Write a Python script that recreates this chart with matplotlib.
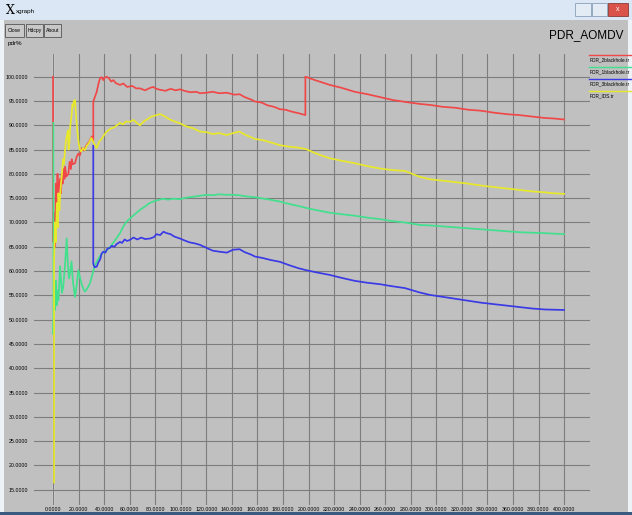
import matplotlib
matplotlib.use("Agg")
import matplotlib.pyplot as plt
from matplotlib.patches import Rectangle
from matplotlib.lines import Line2D

# ---------------- data ----------------
red_x = [0, 0, 0.8, 1.5, 2.2, 2.9, 3.5, 4, 4.6, 5.5, 6.2, 6.8, 7.5, 8.2, 9, 9.4, 10.5, 12, 13, 14, 14.6,
         15.5, 17.2, 18.5, 19.8, 21, 22.4, 24, 26.4, 28, 30.3, 31.5, 31.5, 33, 34.2, 35.5, 36.8, 38, 39.4,
         40.5, 42, 44, 45.5, 47.2, 49, 52.4, 55, 58, 62, 65, 68, 72, 76, 78.3, 81, 83.8, 88, 92, 96, 99.4,
         104, 108, 112, 115, 120, 125, 130, 136, 142, 146, 150, 155, 158, 163, 168, 173, 177.7, 182, 187,
         192, 197.5, 197.5, 205, 216.8, 226, 236, 246, 256, 266, 276, 287, 295, 305, 315, 325, 335, 345,
         355, 365, 375, 385, 392, 400]
red_y = [100, 66, 72, 65, 78, 69, 80, 74, 77, 79, 76, 80, 78, 81, 79, 81.5, 79.5, 80, 82.5, 81, 83,
         82, 82.2, 83.5, 84.2, 83.8, 85.3, 84.8, 86, 86.5, 87.7, 86.8, 94.9, 96, 96.9, 98.5, 99.7, 99.9, 99.3,
         99.8, 100, 99.6, 99.0, 99.3, 98.7, 98.3, 98.6, 97.9, 98.1, 97.6, 97.6, 97.2, 97.7, 97.9, 97.5, 97.3,
         97.1, 97.5, 97.2, 97.4, 97.0, 96.8, 96.9, 96.6, 96.7, 96.9, 96.6, 96.7, 96.3, 96.4, 95.8, 95.3, 94.9,
         94.7, 94.1, 93.8, 93.3, 93.2, 92.8, 92.5, 92.1, 100.0, 99.3, 98.3, 97.7, 96.9, 96.4, 95.8, 95.2,
         94.8, 94.4, 94.2, 93.8, 93.6, 93.2, 93.0, 92.6, 92.3, 92.1, 91.8, 91.5, 91.4, 91.2]

yel_x = [0.8, 0.8, 1.5, 2.2, 3, 3.6, 4.2, 5, 5.5, 6.2, 7, 7.8, 8.6, 9.4, 10.2, 11, 11.7, 12.2, 12.8, 13.5,
         14.5, 15.2, 15.6, 16.2, 17.2, 18, 19, 20, 21, 22, 23.5, 25, 26.4, 28, 30, 31.5, 33, 34.2, 36, 38,
         40, 42, 45, 48, 52.4, 55, 57, 60, 63, 66, 68, 71, 74, 77, 80, 83.8, 87, 90, 94, 99.4, 104, 109.6,
         115, 120, 125, 130, 136, 141, 146, 150, 158, 165, 170, 177.7, 185, 192, 198, 205, 210, 216.8, 226,
         236, 246, 256, 265, 275.5, 287, 295, 305, 315, 325, 335, 345, 355, 365, 375, 385, 392, 400]
yel_y = [16.5, 62, 70, 66, 74, 69, 76, 72.5, 75, 78, 80, 83, 82, 85, 87, 88, 89, 85, 86.5, 90,
         92, 94.2, 93.8, 95, 95.2, 92, 89, 86.5, 85, 84.6, 85.3, 84.9, 85.8, 86.3, 87.4, 86.6, 85.8, 85.3,
         86.6, 87.2, 88, 88.7, 89.3, 89.6, 90.5, 90.2, 90.8, 90.7, 91.1, 90.4, 90.0, 90.8, 91.3, 91.8, 92.0,
         92.3, 91.9, 91.4, 90.9, 90.4, 89.8, 89.4, 88.7, 88.6, 88.2, 88.4, 88.0, 88.4, 88.7, 88.1, 87.2, 86.9,
         86.5, 85.9, 85.6, 85.4, 85.1, 84.3, 83.8, 83.2, 82.7, 82.2, 81.6, 81.1, 80.8, 80.6, 79.4, 78.9,
         78.6, 78.3, 78.0, 77.6, 77.3, 77.0, 76.7, 76.4, 76.2, 76.0, 75.9]

grn_x = [0.3, 0.3, 1, 1.6, 2.2, 2.8, 3.5, 4.2, 5, 5.5, 6.3, 7, 8, 9, 9.8, 10.7, 11.5, 12.4, 13.3, 14.5,
         15.5, 17.2, 18.5, 19.8, 21, 22.5, 24, 25, 26.5, 28, 29, 31, 32.9, 35, 37, 39, 40.7, 43, 46, 49,
         52.4, 55, 57.7, 61, 64, 68, 72, 75, 78.3, 82, 86, 90, 94, 99.4, 104, 110, 115, 120, 125, 130, 136,
         141, 146, 150, 158, 165, 170, 177.7, 185, 192, 198, 205, 216.8, 226, 236, 246, 256, 265, 275.5,
         287, 295, 305, 315, 325, 335, 345, 355, 365, 375, 385, 400]
grn_y = [90.5, 47, 55, 52, 58, 53, 56, 54, 58, 61, 58, 55.5, 56.8, 60, 63, 66.7, 62, 58.5, 59.6, 62,
         58, 54.7, 57, 60.2, 58.8, 57.2, 56.2, 55.8, 56.3, 57.0, 57.6, 59.5, 61.3, 62.3, 63.2, 63.8, 64,
         64.5, 65.4, 66.5, 67.8, 69.2, 70.2, 71.0, 71.7, 72.6, 73.3, 73.9, 74.3, 74.6, 74.9, 74.7, 74.9,
         74.8, 75.1, 75.3, 75.5, 75.7, 75.6, 75.8, 75.7, 75.7, 75.6, 75.4, 75.2, 74.9, 74.7, 74.3, 73.8,
         73.4, 73.0, 72.6, 72.0, 71.7, 71.4, 71.0, 70.7, 70.3, 70.0, 69.5, 69.4, 69.2, 69.0, 68.8, 68.6,
         68.4, 68.2, 68.0, 67.9, 67.8, 67.6]

blu_x = [31.5, 31.5, 32.5, 34.2, 35.5, 37, 38, 39.4, 41, 42.5, 44.6, 46, 48, 50, 52.4, 54, 56, 58, 60, 63,
         66, 69, 72, 76, 79, 81, 83.8, 86.4, 89, 92, 95, 99.4, 103, 107, 111, 115, 120, 125, 130, 136, 141,
         146, 150, 155, 158, 164, 170, 177.7, 185, 192, 198, 205, 216.8, 226, 236, 246, 256, 265, 275.5,
         287, 295, 305, 315, 325, 335, 345, 355, 365, 375, 385, 400]
blu_y = [85.8, 61.5, 60.8, 60.9, 61.8, 62.5, 63.6, 64, 63.8, 64.6, 64.8, 65.2, 65.0, 65.6, 66.0, 65.8,
         66.5, 66.2, 66.4, 66.9, 66.5, 66.9, 66.6, 66.7, 67.0, 67.6, 67.4, 68.1, 67.8, 67.6, 67.1, 66.7,
         66.3, 65.9, 65.7, 65.4, 64.8, 64.2, 64.0, 63.8, 64.4, 64.5, 63.9, 63.4, 63.0, 62.7, 62.3, 61.9,
         61.2, 60.6, 60.2, 59.8, 59.2, 58.6, 58.0, 57.6, 57.3, 56.9, 56.5, 55.6, 55.1, 54.7, 54.3, 53.9,
         53.5, 53.2, 52.9, 52.6, 52.3, 52.1, 52.0]

series_names = ["PDR_2blackhole.tr", "PDR_1blackhole.tr", "PDR_3blackhole.tr", "PDR_IDS.tr"]
series_colors = ["#f04848", "#40e08c", "#3a3ae6", "#e8e82a"]
x_ticks = list(range(0, 401, 20))
y_ticks = list(range(15, 101, 5))
title = "PDR_AOMDV"
y_unit = "pdr%"

# ---------------- figure ----------------
W, H = 632, 515
fig = plt.figure(figsize=(W / 100, H / 100), dpi=100)
fig.patch.set_facecolor("#c0c0c0")
FONT = "Liberation Sans"


def fx(px):
    return px / W


def fy(py):
    return 1 - py / H


def rect(x0, y0, x1, y1, fc, ec="none", lw=0.6, z=0):
    fig.patches.append(Rectangle((fx(x0), fy(y1)), fx(x1) - fx(x0), fy(y0) - fy(y1),
                                 transform=fig.transFigure, facecolor=fc, edgecolor=ec,
                                 linewidth=lw, zorder=z))


# window chrome
rect(0, 0, W, 20, "#dbe7f4")
rect(0, 20, 4, H, "#eef3f8")
rect(W - 4, 20, W, H, "#eef3f8")
rect(0, H - 3, W, H, "#3b5a80")
fig.text(fx(6), fy(11), "X", fontsize=9, family="DejaVu Serif", va="center", ha="left")
fig.text(fx(16), fy(11), "xgraph", fontsize=4.5, family=FONT, va="center", ha="left")
rect(575, 3, 591, 16, "#e3ebf4", "#8aa0b8")
rect(592, 3, 607, 16, "#e3ebf4", "#8aa0b8")
rect(608, 3, 628, 16, "#d9534a", "#8a3a34")
fig.text(fx(618), fy(9.5), "x", fontsize=5, color="white", ha="center", va="center", family=FONT)

# buttons
for (x0, x1, lab) in [(5, 24, "Close"), (26, 43, "Hdcpy"), (44, 61, "About")]:
    rect(x0, 24, x1, 37, "#c8c8c8", "#555555", lw=0.6)
    fig.text(fx((x0 + x1) / 2), fy(30.5), lab, fontsize=3.6, family=FONT,
             ha="center", va="center")

fig.text(fx(8), fy(44), y_unit, fontsize=4.5, family=FONT, ha="left", va="center")
fig.text(fx(623), fy(35), title, fontsize=8.5, family=FONT, ha="right", va="center")

# ---------------- axes ----------------
ax_left, ax_right, ax_top, ax_bot = 34, 590, 54, 505
ax = fig.add_axes([fx(ax_left), fy(ax_bot), fx(ax_right) - fx(ax_left), fy(ax_top) - fy(ax_bot)])
ax.set_facecolor("#c0c0c0")
ax.set_xlim(-14.9, 420.3)
ax.set_ylim(11.87, 104.67)
for s in ax.spines.values():
    s.set_visible(False)
ax.set_xticks(x_ticks)
ax.set_yticks(y_ticks)
ax.set_xticklabels([f"{v:.4f}" for v in x_ticks], fontsize=3.8, family=FONT)
ax.set_yticklabels([f"{v:.4f}" for v in y_ticks], fontsize=3.8, family=FONT)
ax.tick_params(length=0, pad=1.5)
ax.tick_params(axis="y", pad=4)
ax.grid(True, color="#7d7d7d", linewidth=0.8)
ax.axvline(0, color="white", linewidth=1.0, zorder=1.5)

series = [(red_x, red_y), (grn_x, grn_y), (blu_x, blu_y), (yel_x, yel_y)]
for (xs, ys), c in zip(series, series_colors):
    ax.plot(xs, ys, color=c, linewidth=1.25, zorder=3)

# legend (xgraph style: line above each name)
for i, (name, c) in enumerate(zip(series_names, series_colors)):
    yl = 55 + i * 12
    fig.lines.append(Line2D([fx(589), fx(631)], [fy(yl), fy(yl)], transform=fig.transFigure,
                            color=c, linewidth=1.0))
    fig.text(fx(590), fy(yl + 4.5), name, fontsize=3.4, family=FONT, ha="left", va="center")

fig.savefig("out.png", dpi=100, facecolor=fig.get_facecolor())
